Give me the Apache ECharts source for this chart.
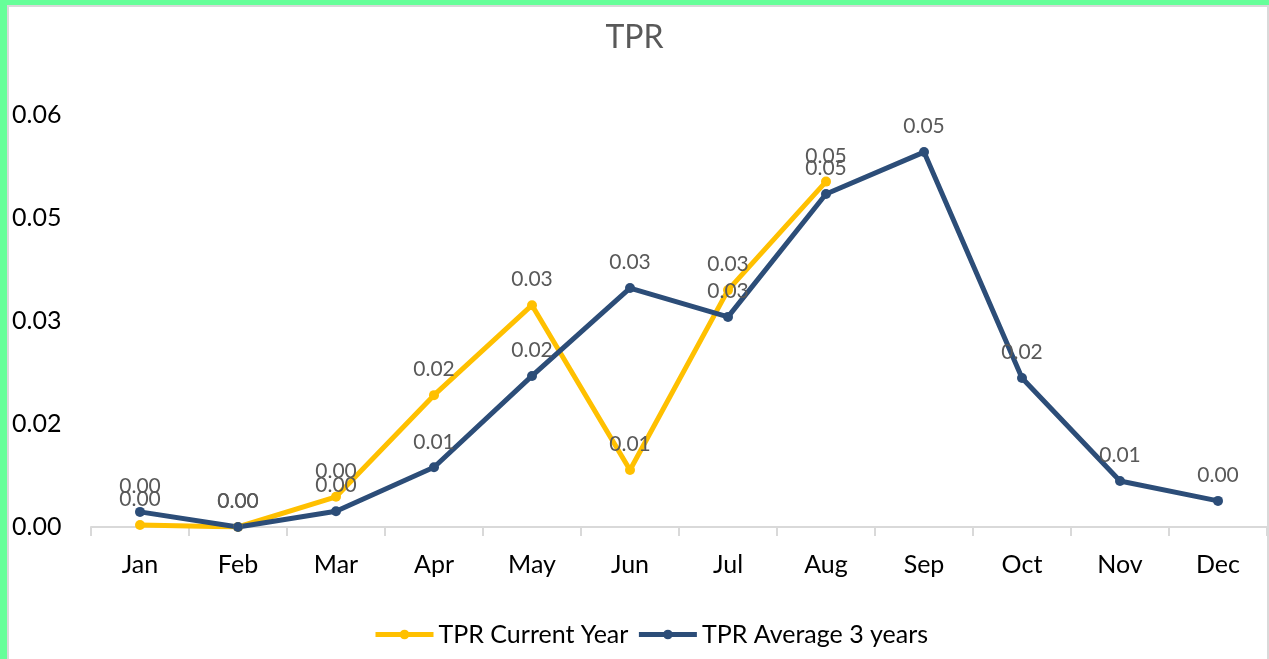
<!DOCTYPE html>
<html>
<head>
<meta charset="utf-8">
<script src="https://cdn.jsdelivr.net/npm/echarts@6/dist/echarts.min.js"></script>
<style>
html, body { margin: 0; padding: 0; background: #fff; }
#frame {
	position: absolute; left: 0; top: 0; width: 1269px; height: 659px;
	box-sizing: border-box;
	border-top: 5px solid #66FF99;
	border-left: 7px solid #66FF99;
}
#inner {
	position: absolute; left: 0; top: 0; right: 0; bottom: 0;
	border-top: 2px solid #D9D9D9;
	border-left: 2px solid #D9D9D9;
	border-right: 2px solid #D9D9D9;
}
#chart { position: absolute; left: 0; top: 0; width: 1269px; height: 659px; }
</style>
</head>
<body>
<div id="frame"><div id="inner"></div></div>
<div id="chart"></div>
<script>
var months = ['Jan','Feb','Mar','Apr','May','Jun','Jul','Aug','Sep','Oct','Nov','Dec'];
var currentYear = [0.0003, 0.0000, 0.0044, 0.0192, 0.0323, 0.0083, 0.0345, 0.0503];
var average3Years = [0.0022, 0.0000, 0.0023, 0.0087, 0.0220, 0.0348, 0.0306, 0.0485, 0.0546, 0.0217, 0.0067, 0.0038];
var yTickLabels = ['0.00','0.02','0.03','0.05','0.06'];

var FONT = 'Lato';

function lbl(p) {
	return (Math.round(p.value * 100) / 100).toFixed(2);
}

var myChart = echarts.init(document.getElementById('chart'));
var option = {
	animation: false,
	textStyle: {fontFamily: FONT},
	title: {
		text: 'TPR',
		left: 'center',
		top: 17,
		textStyle: {fontFamily: FONT, fontSize: 32, fontWeight: 'normal', color: '#595959'}
	},
	legend: {
		bottom: 7,
		left: 368,
		itemWidth: 58,
		itemHeight: 12,
		itemGap: 8,
		lineStyle: {width: 5},
		textStyle: {fontFamily: FONT, fontSize: 25, color: '#000'},
		data: ['TPR Current Year', 'TPR Average 3 years']
	},
	grid: {left: 91, right: 2, top: 115, bottom: 132},
	xAxis: {
		type: 'category',
		data: months,
		boundaryGap: true,
		axisLine: {lineStyle: {color: '#D9D9D9', width: 2}},
		axisTick: {show: true, length: 9, lineStyle: {color: '#D9D9D9', width: 2}},
		axisLabel: {fontFamily: FONT, fontSize: 25, color: '#000', margin: 25}
	},
	yAxis: {
		type: 'value',
		min: 0,
		max: 0.06,
		interval: 0.015,
		splitLine: {show: false},
		axisLine: {show: false},
		axisTick: {show: false},
		axisLabel: {
			fontFamily: FONT, fontSize: 25, color: '#000',
			align: 'left', margin: 79,
			formatter: function (v, i) { return yTickLabels[i]; }
		}
	},
	series: [{
		name: 'TPR Current Year',
		type: 'line',
		data: currentYear,
		color: '#FFC000',
		symbol: 'circle',
		symbolSize: 10,
		lineStyle: {width: 5, color: '#FFC000'},
		itemStyle: {color: '#FFC000'},
		label: {show: true, position: 'top', distance: 10, formatter: lbl,
			fontFamily: FONT, fontSize: 21, color: '#595959'}
	}, {
		name: 'TPR Average 3 years',
		type: 'line',
		data: average3Years,
		color: '#2C4D78',
		symbol: 'circle',
		symbolSize: 10,
		lineStyle: {width: 5, color: '#2C4D78'},
		itemStyle: {color: '#2C4D78'},
		label: {show: true, position: 'top', distance: 10, formatter: lbl,
			fontFamily: FONT, fontSize: 21, color: '#595959'}
	}]
};
myChart.setOption(option);
</script>
</body>
</html>
